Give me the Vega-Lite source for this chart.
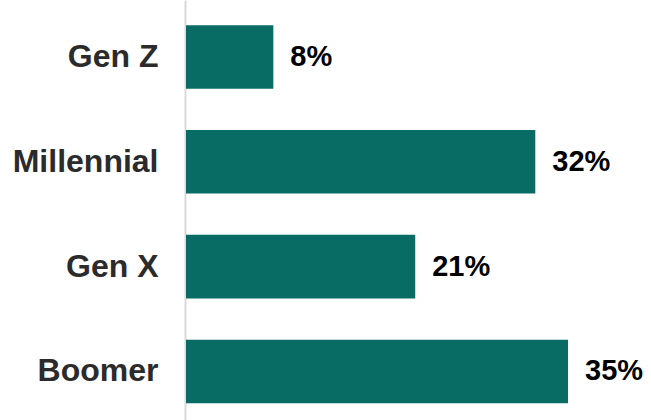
{
  "$schema": "https://vega.github.io/schema/vega-lite/v6.json",
  "width": 465,
  "height": 420,
  "autosize": {"type": "none"},
  "padding": {"left": 186, "top": 0, "right": 0, "bottom": 0},
  "background": "white",
  "config": {"view": {"stroke": null}},
  "data": {
    "values": [
      {"generation": "Gen Z", "share": 0.08},
      {"generation": "Millennial", "share": 0.32},
      {"generation": "Gen X", "share": 0.21},
      {"generation": "Boomer", "share": 0.35}
    ]
  },
  "encoding": {
    "y": {
      "field": "generation",
      "type": "nominal",
      "sort": null,
      "scale": {"paddingInner": 0.394, "paddingOuter": 0.2, "align": 0.6},
      "axis": {
        "title": null,
        "ticks": false,
        "offset": 1,
        "domainColor": "#d9d9d9",
        "domainWidth": 2,
        "labelFont": "Liberation Sans",
        "labelFontSize": 32,
        "labelFontWeight": "bold",
        "labelColor": "#2b2b2b",
        "labelPadding": 27,
        "labelLimit": 300
      }
    },
    "x": {
      "field": "share",
      "type": "quantitative",
      "scale": {"domain": [0, 0.426], "nice": false},
      "axis": null
    }
  },
  "layer": [
    {"mark": {"type": "bar", "color": "#086b64"}},
    {
      "mark": {
        "type": "text",
        "align": "left",
        "baseline": "middle",
        "dx": 17,
        "font": "Liberation Sans",
        "fontSize": 29,
        "fontWeight": "bold",
        "color": "#000000"
      },
      "encoding": {"text": {"field": "share", "type": "quantitative", "format": ".0%"}}
    }
  ]
}
